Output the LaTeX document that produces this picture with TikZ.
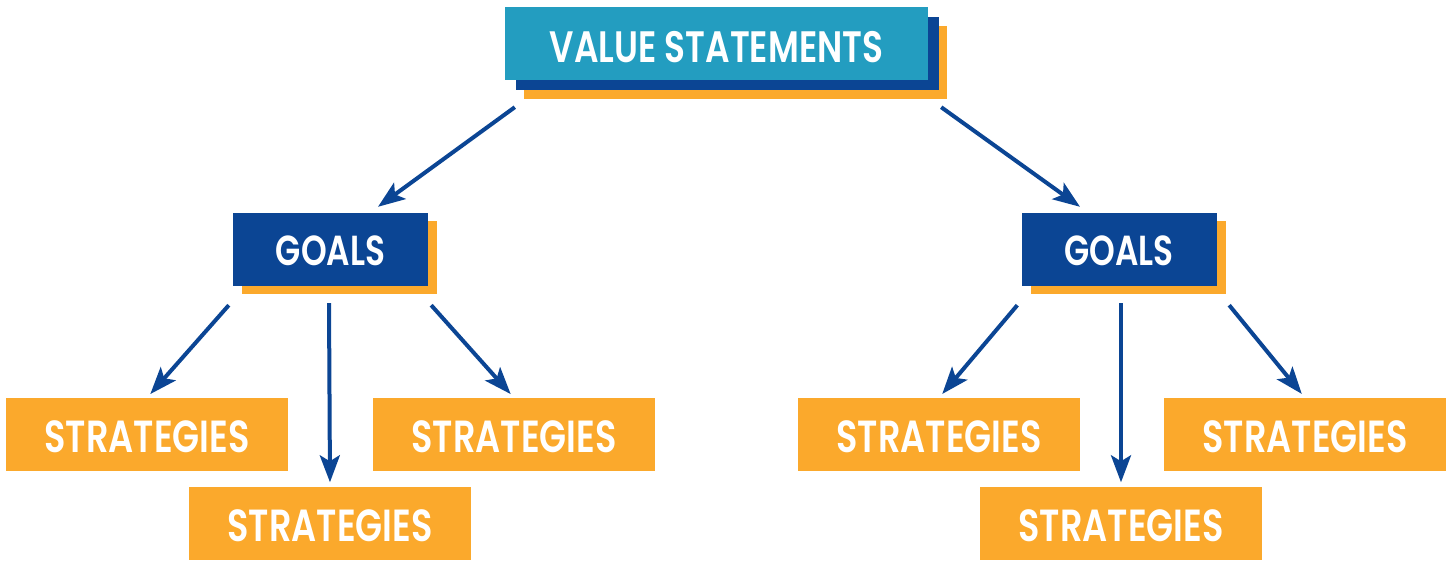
\documentclass[tikz,border=0pt]{standalone}
\usepackage{fontspec}
\setmainfont{Poppins}[FakeStretch=0.78, BoldFont={Poppins SemiBold}, BoldFeatures={FakeStretch=0.78}]
\usetikzlibrary{arrows.meta,shadows}

\definecolor{cyanblue}{HTML}{239DC0}
\definecolor{navy}{HTML}{0B4594}
\definecolor{amber}{HTML}{FBA92C}

\begin{document}
\begin{tikzpicture}[x=1pt,y=-1pt,
    valuebox/.style={fill=cyanblue, text=white, minimum width=423pt, minimum height=73pt, inner sep=0pt,
      font=\fontsize{44}{44}\selectfont\bfseries, text height=38pt, text depth=0pt,
      general shadow={fill=amber, shadow xshift=19pt, shadow yshift=-19pt},
      general shadow={fill=navy, shadow xshift=11pt, shadow yshift=-10pt}},
    goalbox/.style={fill=navy, text=white, minimum width=195pt, minimum height=73pt, inner sep=0pt,
      font=\fontsize{42}{42}\selectfont\bfseries, text height=33pt, text depth=0pt,
      general shadow={fill=amber, shadow xshift=9pt, shadow yshift=-8pt}},
    stratbox/.style={fill=amber, text=white, minimum width=282pt, minimum height=73pt, inner sep=0pt,
      font=\fontsize{45}{45}\selectfont\bfseries, text height=37pt, text depth=0pt},
    arr/.style={draw=navy, line width=4pt, -{Stealth[length=27pt, width=20pt, inset=6pt]}}]
    \useasboundingbox (0,0) rectangle (1452,561);

    \node[valuebox] (value) at (716.5,43.5) {VALUE STATEMENTS};
    \node[goalbox] (goalsL) at (330.5,249.5) {GOALS}; % left branch
    \node[goalbox] (goalsR) at (1119,249.5) {GOALS};  % right branch

    \node[stratbox] (stratLL) at (147,434.5) {STRATEGIES};
    \node[stratbox] (stratLM) at (330,523) {STRATEGIES};
    \node[stratbox] (stratLR) at (514,434.5) {STRATEGIES};
    \node[stratbox] (stratRL) at (939,434.5) {STRATEGIES};
    \node[stratbox] (stratRM) at (1121,523) {STRATEGIES};
    \node[stratbox] (stratRR) at (1305,434.5) {STRATEGIES};

    \draw[arr] ([xshift=10pt,yshift=-27pt]value.south west) -- ([xshift=47.5pt,yshift=6pt]goalsL.north);
    \draw[arr] ([xshift=13pt,yshift=-27pt]value.south east) -- ([xshift=-39pt,yshift=6pt]goalsR.north);

    \draw[arr, shorten >=5pt] ([xshift=-4pt,yshift=-19pt]goalsL.south west) -- (stratLL.north);
    \draw[arr, shorten >=4pt] ([xshift=-1.5pt,yshift=-17pt]goalsL.south) -- (stratLM.north);
    \draw[arr, shorten >=5pt] ([xshift=3pt,yshift=-19pt]goalsL.south east) -- (stratLR.north);

    \draw[arr, shorten >=5pt] ([xshift=-4pt,yshift=-19pt]goalsR.south west) -- (stratRL.north);
    \draw[arr, shorten >=4pt] ([xshift=2pt,yshift=-17pt]goalsR.south) -- (stratRM.north);
    \draw[arr, shorten >=5pt] ([xshift=12.5pt,yshift=-19pt]goalsR.south east) -- (stratRR.north);
\end{tikzpicture}
\end{document}
